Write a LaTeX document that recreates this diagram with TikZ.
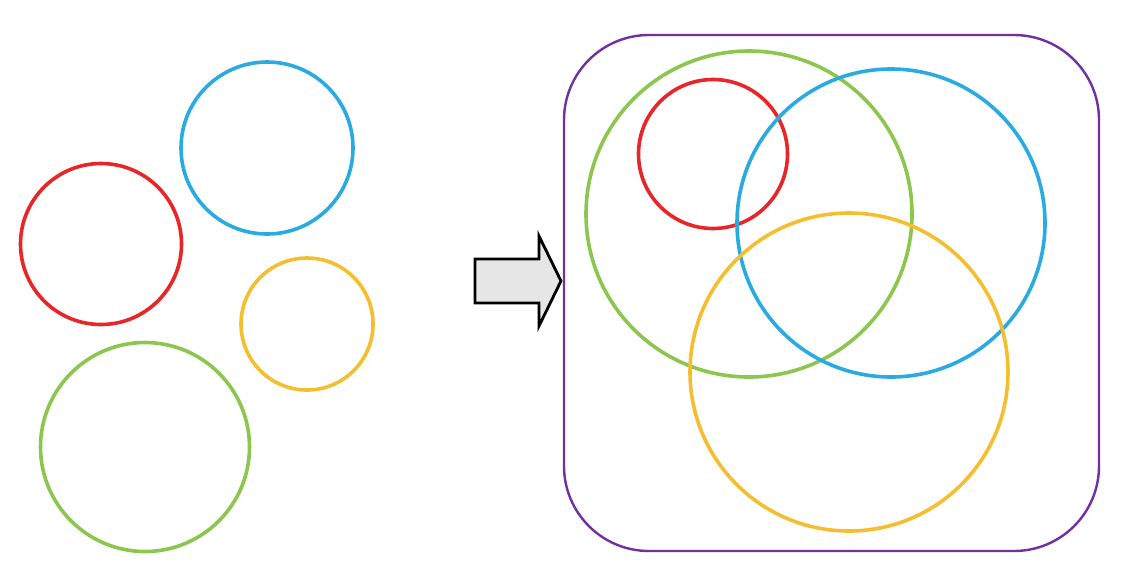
\documentclass[tikz,border=0pt]{standalone}
\usetikzlibrary{calc}
\definecolor{cred}{HTML}{E8262A}
\definecolor{cblue}{HTML}{29ABE2}
\definecolor{cyellow}{HTML}{F5BE2E}
\definecolor{cgreen}{HTML}{8DC64F}
\definecolor{cpurple}{HTML}{7030A0}
\definecolor{cgrey}{HTML}{E6E6E6}
\tikzset{
  ring/.style={draw=#1, line width=3.6pt, circle, inner sep=0pt, minimum size=0pt},
  frame/.style={draw=cpurple, line width=2.4pt, rounded corners=85pt},
  blockarrow/.style={draw=black, fill=cgrey, line width=2.8pt, line join=miter}
}
\begin{document}
\begin{tikzpicture}[x=1pt,y=-1pt]
\useasboundingbox (0,0) rectangle (1148,582);
% left circles
\node[ring=cblue, minimum size=172pt] (lblue) at (267,148) {};
\node[ring=cred, minimum size=161pt] (lred) at (101,244) {};
\node[ring=cyellow, minimum size=132pt] (lyellow) at (307,324) {};
\node[ring=cgreen, minimum size=209pt] (lgreen) at (145,447) {};
% arrow
\coordinate (atip) at (561,281);
\draw[blockarrow] (475,259) -- (539,259) -- (539,236) -- (atip) -- (539,326) -- (539,303) -- (475,303) -- cycle;
% frame
\node[frame, minimum width=535pt, minimum height=516pt, inner sep=0pt] (box) at (831.5,293) {};
% right circles
\node[ring=cgreen, minimum size=326pt] (rgreen) at (749,214) {};
\node[ring=cred, minimum size=149pt] (rred) at (713,154) {};
\node[ring=cblue, minimum size=308pt] (rblue) at (891,223) {};
\node[ring=cyellow, minimum size=318pt] (ryellow) at (849,372) {};
\end{tikzpicture}
\end{document}
